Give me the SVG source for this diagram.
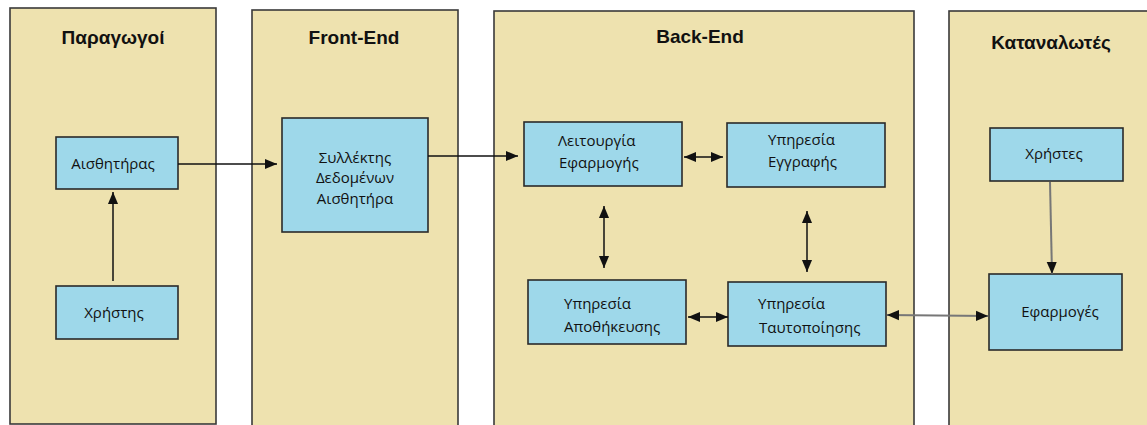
<svg xmlns="http://www.w3.org/2000/svg" width="1147" height="425" viewBox="0 0 1147 425">
  <style>
    .lane { fill: #eee2af; stroke: #3a3a3a; stroke-width: 1.6; }
    .box { fill: #9ed8ea; stroke: #2a2a2a; stroke-width: 1.6; }
    .title { font-family: "Liberation Sans", Arial, sans-serif; font-size: 19px; font-weight: bold; fill: #111; text-anchor: middle; }
    .label { font-family: "Open Sans", "Liberation Sans", sans-serif; font-size: 15px; fill: #111; }
    .mid { text-anchor: middle; }
    .edge { stroke: #111; stroke-width: 1.5; fill: none; }
    .grey { stroke: #777; stroke-width: 2; fill: none; }
  </style>
  <defs>
    <marker id="arrow" viewBox="0 0 10 10" refX="10" refY="5" markerWidth="12" markerHeight="12" markerUnits="userSpaceOnUse" orient="auto-start-reverse">
      <path d="M0,0.8 L10,5 L0,9.2 Z" fill="#111"/>
    </marker>
  </defs>

  <rect width="1147" height="425" fill="#ffffff"/>

  <!-- swimlanes -->
  <g id="lane-producers">
    <rect class="lane" x="10" y="8" width="206" height="416"/>
    <text class="title" x="113" y="44">Παραγωγοί</text>
  </g>
  <g id="lane-frontend">
    <rect class="lane" x="252" y="10" width="206" height="430"/>
    <text class="title" x="354" y="44">Front-End</text>
  </g>
  <g id="lane-backend">
    <rect class="lane" x="494" y="11" width="420" height="430"/>
    <text class="title" x="700" y="43">Back-End</text>
  </g>
  <g id="lane-consumers">
    <rect class="lane" x="949" y="11" width="210" height="430"/>
    <text class="title" x="1051" y="49">Καταναλωτές</text>
  </g>

  <!-- nodes -->
  <g id="sensor">
    <rect class="box" x="56" y="137" width="122" height="52"/>
    <text class="label mid" x="113" y="169">Αισθητήρας</text>
  </g>
  <g id="user">
    <rect class="box" x="56" y="286" width="122" height="53"/>
    <text class="label mid" x="114" y="318">Χρήστης</text>
  </g>
  <g id="collector">
    <rect class="box" x="282" y="118" width="146" height="114"/>
    <text class="label mid" x="355" y="163">Συλλέκτης</text>
    <text class="label mid" x="355" y="183">Δεδομένων</text>
    <text class="label mid" x="355" y="204">Αισθητήρα</text>
  </g>
  <g id="app-logic">
    <rect class="box" x="524" y="122" width="158" height="64"/>
    <text class="label" x="558" y="146">Λειτουργία</text>
    <text class="label" x="559" y="168">Εφαρμογής</text>
  </g>
  <g id="registration">
    <rect class="box" x="727" y="123" width="158" height="64"/>
    <text class="label" x="768" y="145">Υπηρεσία</text>
    <text class="label" x="768" y="167">Εγγραφής</text>
  </g>
  <g id="storage">
    <rect class="box" x="528" y="280" width="158" height="64"/>
    <text class="label" x="564" y="309">Υπηρεσία</text>
    <text class="label" x="564" y="332">Αποθήκευσης</text>
  </g>
  <g id="authentication">
    <rect class="box" x="728" y="282" width="158" height="64"/>
    <text class="label" x="758" y="309">Υπηρεσία</text>
    <text class="label" x="759" y="333">Ταυτοποίησης</text>
  </g>
  <g id="users">
    <rect class="box" x="990" y="128" width="133" height="53"/>
    <text class="label mid" x="1054" y="159">Χρήστες</text>
  </g>
  <g id="applications">
    <rect class="box" x="989" y="274" width="133" height="76"/>
    <text class="label mid" x="1060" y="317">Εφαρμογές</text>
  </g>

  <!-- connectors -->
  <g id="connectors">
    <line class="edge" x1="113" y1="281" x2="113" y2="192" marker-end="url(#arrow)"/>
    <line class="edge" x1="178" y1="164" x2="277" y2="164" marker-end="url(#arrow)"/>
    <line class="edge" x1="428" y1="156" x2="518" y2="156" marker-end="url(#arrow)"/>
    <line class="edge" x1="684" y1="157" x2="723" y2="157" marker-start="url(#arrow)" marker-end="url(#arrow)"/>
    <line class="edge" x1="604" y1="206" x2="604" y2="268" marker-start="url(#arrow)" marker-end="url(#arrow)"/>
    <line class="edge" x1="807" y1="211" x2="807" y2="272" marker-start="url(#arrow)" marker-end="url(#arrow)"/>
    <line class="edge" x1="688" y1="317" x2="728" y2="317" marker-start="url(#arrow)" marker-end="url(#arrow)"/>
    <line class="grey" x1="887" y1="315" x2="988" y2="316" marker-start="url(#arrow)" marker-end="url(#arrow)"/>
    <line class="grey" x1="1050" y1="182" x2="1052" y2="274" marker-end="url(#arrow)"/>
  </g>
</svg>
